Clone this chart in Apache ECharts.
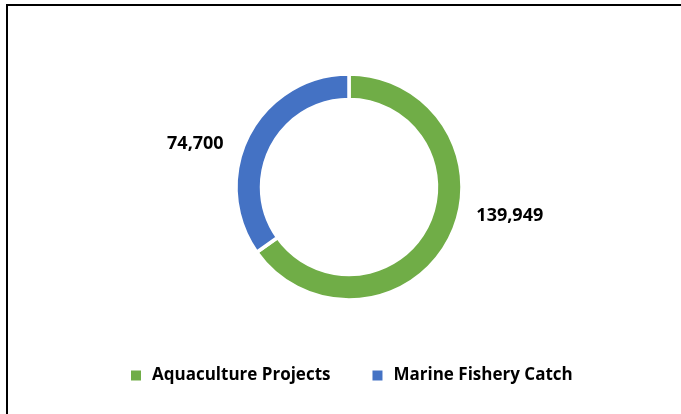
<!DOCTYPE html>
<html>
<head>
<meta charset="utf-8">
<script src="https://cdn.jsdelivr.net/npm/echarts@6/dist/echarts.min.js"></script>
<style>
html,body{margin:0;padding:0;background:#fff;}
#chart{width:681px;height:414px;}
</style>
</head>
<body>
<div id="chart"></div>
<script>
const categories = ["Aquaculture Projects", "Marine Fishery Catch"];
const values = [139949, 74700];
const colors = ["#70AD47", "#4472C4"];
const labelOffsets = [[22, -23], [-20, 9]];

const chart = echarts.init(document.getElementById('chart'));
const FONT = '"Open Sans", "Noto Sans", sans-serif';
chart.setOption({
  animation: false,
  color: colors,
  graphic: [
    { type: 'line', shape: { x1: 7, y1: 5, x2: 681, y2: 5 }, style: { stroke: '#000', lineWidth: 2 } },
    { type: 'line', shape: { x1: 7, y1: 4, x2: 7, y2: 414 }, style: { stroke: '#000', lineWidth: 2 } }
  ],
  legend: {
    data: categories,
    left: 124,
    top: 362,
    itemWidth: 12,
    itemHeight: 12,
    itemGap: 40,
    icon: 'rect',
    textStyle: { fontFamily: FONT, fontWeight: 'bold', fontSize: 17, color: '#000', padding: [0, 0, 0, 5] }
  },
  series: [{
    type: 'pie',
    center: [349, 187],
    radius: [87.5, 113],
    startAngle: 90,
    clockwise: true,
    avoidLabelOverlap: false,
    itemStyle: { borderColor: '#fff', borderWidth: 3.5 },
    label: {
      show: true,
      position: 'outside',
      fontFamily: FONT,
      fontWeight: 'bold',
      fontSize: 18,
      color: '#000',
      formatter: p => p.value.toLocaleString('en-US')
    },
    labelLine: { show: false, length: 0, length2: 0 },
    emphasis: { disabled: true },
    data: categories.map((c, i) => ({
      name: c,
      value: values[i],
      label: { offset: labelOffsets[i] }
    }))
  }]
});
</script>
</body>
</html>
